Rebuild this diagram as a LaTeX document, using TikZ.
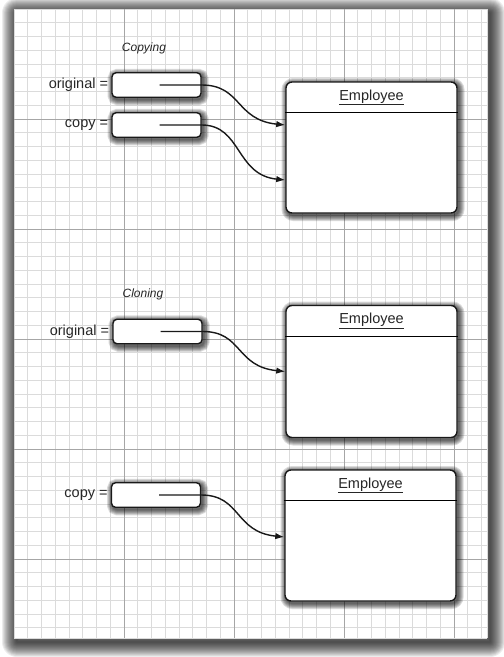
\documentclass[tikz,border=0pt]{standalone}
\usepackage{fontspec}
\setmainfont{Liberation Sans}
\usetikzlibrary{positioning,arrows.meta}

\begin{document}
\begin{tikzpicture}[x=1pt,y=-1pt]
		\newcommand{\cellsize}{13.75} % minor grid spacing
		\newcommand{\sheetx}{14}
		\newcommand{\sheety}{9}
		\newcommand{\sheetr}{487}
		\newcommand{\sheetb}{638}
		\newcommand{\hdr}{31.5pt} % height of the class header

		% styles
		\tikzset{
			minor/.style={gray!28, line width=0.6pt},
			major/.style={gray!70, line width=0.7pt},
			halo/.style={
				preaction={draw=black, draw opacity=#1, line width=12pt, transform canvas={xshift=1.5pt, yshift=-2pt}},
				preaction={draw=black, draw opacity=#1, line width=10pt, transform canvas={xshift=1.5pt, yshift=-2pt}},
				preaction={draw=black, draw opacity=#1, line width=8pt, transform canvas={xshift=1.5pt, yshift=-2pt}},
				preaction={draw=black, draw opacity=#1, line width=6pt, transform canvas={xshift=1.5pt, yshift=-2pt}},
				preaction={draw=black, draw opacity=#1, line width=4pt, transform canvas={xshift=1.5pt, yshift=-2pt}},
				preaction={draw=black, draw opacity=#1, line width=2pt, transform canvas={xshift=1.5pt, yshift=-2pt}}
				},
			var/.style={
				draw=black!90,
				line width=1.4pt,
				fill=white,
				rounded corners=4pt,
				minimum width=89pt,
				minimum height=24.5pt,
				inner sep=0pt,
				halo=0.14
				},
			obj/.style={
				var,
				rounded corners=6pt,
				minimum width=171pt,
				minimum height=131pt
				},
			lbl/.style={font=\fontsize{14.5}{16}\selectfont, text=black!85, inner sep=2pt},
			caption/.style={font=\fontsize{12}{14}\selectfont\itshape, text=black!85},
			ref/.style={line width=1.4pt, black!90, -{Latex[length=9pt,width=6.5pt]}}
		}

		\useasboundingbox (0,0) rectangle (504,657);

		% sheet with its shadow
		\begin{scope}[transform canvas={xshift=3pt, yshift=-4pt}]
			\foreach \w in {2,4,...,30}
				\draw[black, draw opacity=0.075, line width=\w pt, line join=round] (\sheetx,\sheety) rectangle (\sheetr,\sheetb);
		\end{scope}
		\fill[white] (\sheetx,\sheety) rectangle (\sheetr,\sheetb);

		% grid
		\foreach \i in {0,...,34}
			\draw[minor] (\sheetx+\i*\cellsize,\sheety) -- (\sheetx+\i*\cellsize,\sheetb);
		\foreach \j in {0,...,45}
			\draw[minor] (\sheetx,\sheety+\j*\cellsize) -- (\sheetr,\sheety+\j*\cellsize);
		\draw[minor] (\sheetr,\sheety) -- (\sheetr,\sheetb) (\sheetx,\sheetb) -- (\sheetr,\sheetb);
		\foreach \i in {1,...,4}
			\draw[major] (\sheetx+\i*8*\cellsize,\sheety) -- (\sheetx+\i*8*\cellsize,\sheetb);
		\foreach \j in {1,...,5}
			\draw[major] (\sheetx,\sheety+\j*8*\cellsize) -- (\sheetr,\sheety+\j*8*\cellsize);

		% copying
		\node[caption] (copying) at (144,48) {Copying};
		\node[var] (orig1) at (156.5,85) {};
		\node[var] (copy1) at (156.5,125) {};
		\node[lbl, left=1pt of orig1] (orig1lbl) {original =};
		\node[lbl, left=1pt of copy1] (copy1lbl) {copy =};
		\node[obj] (emp1) at (371.5,147.5) {};
		\draw[line width=1pt] ([yshift=-\hdr]emp1.north west) -- ([yshift=-\hdr]emp1.north east);
		\node[lbl] (emp1name) at ([yshift=-16pt]emp1.north) {\underline{Employee}};

		\draw[ref] ([xshift=3pt]orig1.center) -- (orig1.east) .. controls +(40,0) and +(-50,-5) .. ([yshift=22.5pt]emp1.west);
		\draw[ref] ([xshift=3pt]copy1.center) -- (copy1.east) .. controls +(40,0) and +(-50,-5) .. ([yshift=-32.5pt]emp1.west);

		% cloning
		\node[caption] (cloning) at (143,294) {Cloning};
		\node[var] (orig2) at (157.5,331.5) {};
		\node[lbl, left=1pt of orig2] (orig2lbl) {original =};
		\node[obj, minimum height=132pt] (emp2) at (371.5,371.5) {};
		\draw[line width=1pt] ([yshift=-\hdr]emp2.north west) -- ([yshift=-\hdr]emp2.north east);
		\node[lbl] (emp2name) at ([yshift=-16pt]emp2.north) {\underline{Employee}};

		\node[var] (copy2) at (156,495) {};
		\node[lbl, left=1pt of copy2] (copy2lbl) {copy =};
		\node[obj] (emp3) at (370.5,535.5) {};
		\draw[line width=1pt] ([yshift=-\hdr]emp3.north west) -- ([yshift=-\hdr]emp3.north east);
		\node[lbl] (emp3name) at ([yshift=-16pt]emp3.north) {\underline{Employee}};

		\draw[ref] ([xshift=3pt]orig2.center) -- (orig2.east) .. controls +(40,0) and +(-50,-5) .. (emp2.west);
		\draw[ref] ([xshift=3pt]copy2.center) -- (copy2.east) .. controls +(40,0) and +(-50,-5) .. ([yshift=-1.5pt]emp3.west);
\end{tikzpicture}
\end{document}
